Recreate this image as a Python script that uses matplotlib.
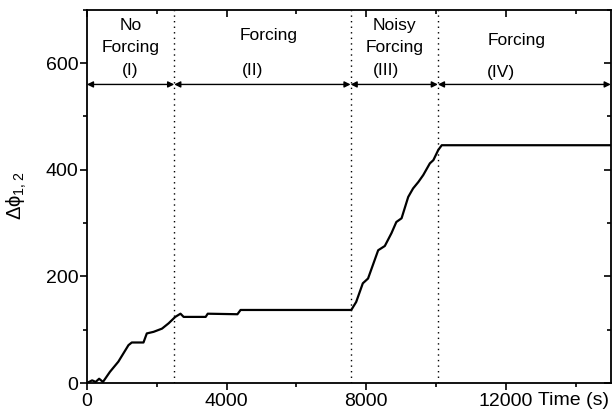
import matplotlib.pyplot as plt
from matplotlib.ticker import MultipleLocator

plt.rcParams['font.family'] = ['Liberation Sans', 'DejaVu Sans']
plt.rcParams['mathtext.fontset'] = 'custom'
plt.rcParams['mathtext.rm'] = 'Liberation Sans'
plt.rcParams['mathtext.it'] = 'Liberation Sans'
plt.rcParams['mathtext.default'] = 'regular'

# phase difference
time_s = [0, 150, 250, 350, 460, 660, 900, 1190, 1285, 1620, 1715, 1910, 2150,
          2340, 2530, 2680, 2770, 3400, 3460, 4310, 4400, 5500, 6500, 7470,
          7570, 7710, 7900, 8050, 8340, 8530, 8720, 8860, 9010, 9200, 9340,
          9490, 9630, 9820, 9920, 10060, 10160, 11500, 13000, 15000]
dphi = [0, 5, 2, 8, 2, 21, 40, 71, 76, 76, 93, 96, 102,
        112, 124, 130, 124, 124, 130, 129, 137, 137, 137, 137,
        137, 152, 187, 196, 249, 257, 281, 302, 309, 349, 365,
        377, 390, 412, 418, 437, 446, 446, 446, 446]

# regime boundaries and labels (one entry per text line)
bounds = [0, 2500, 7550, 10050, 15000]
arrow_y = 560
label_text = ['No', 'Forcing', '(I)',
              'Forcing', '(II)',
              'Noisy', 'Forcing', '(III)',
              'Forcing', '(IV)']
label_x = [1250, 1250, 1250,
           5200, 4750,
           8800, 8800, 8550,
           12300, 11850]
label_y = [671, 630, 587,
           652, 587,
           671, 630, 587,
           643, 583]

fig = plt.figure(figsize=(6.12, 4.17), dpi=100)
ax = fig.add_axes([0.142, 0.0815, 0.856, 0.895])

ax.plot(time_s, dphi, color='black', lw=1.6)

for b in bounds[1:-1]:
    ax.axvline(b, color='black', ls=(0, (1, 3)), lw=1.0)

for i in range(4):
    ax.annotate('', xy=(bounds[i], arrow_y), xytext=(bounds[i + 1], arrow_y),
                arrowprops=dict(arrowstyle='<|-|>', color='black', lw=1.0,
                                mutation_scale=9, shrinkA=0, shrinkB=0))
for t, x, y in zip(label_text, label_x, label_y):
    ax.text(x, y, t, ha='center', va='center', fontsize=12.5)

ax.set_xlim(0, 15000)
ax.set_ylim(0, 700)
ax.xaxis.set_major_locator(MultipleLocator(4000))
ax.xaxis.set_minor_locator(MultipleLocator(2000))
ax.yaxis.set_major_locator(MultipleLocator(200))
ax.yaxis.set_minor_locator(MultipleLocator(100))

ax.tick_params(which='both', labelsize=14, width=1.2, top=True, right=True)
ax.tick_params(which='major', length=5)
ax.tick_params(which='minor', length=3)
ax.tick_params(axis='x', which='both', direction='out', pad=2)
ax.tick_params(axis='y', which='both', direction='out', pad=1)
for t in ax.xaxis.get_major_ticks() + ax.xaxis.get_minor_ticks():
    t.tick2line.set_marker(3)
for t in ax.yaxis.get_major_ticks() + ax.yaxis.get_minor_ticks():
    t.tick2line.set_marker(0)

for s in ax.spines.values():
    s.set_linewidth(1.3)

ax.text(0.997, -0.046, 'Time (s)', transform=ax.transAxes, ha='right',
        va='center', fontsize=14)
ax.set_ylabel(r'$\Delta\phi_{1,2}$', fontsize=14.5, labelpad=12)

fig.savefig('out.png', dpi=100)
